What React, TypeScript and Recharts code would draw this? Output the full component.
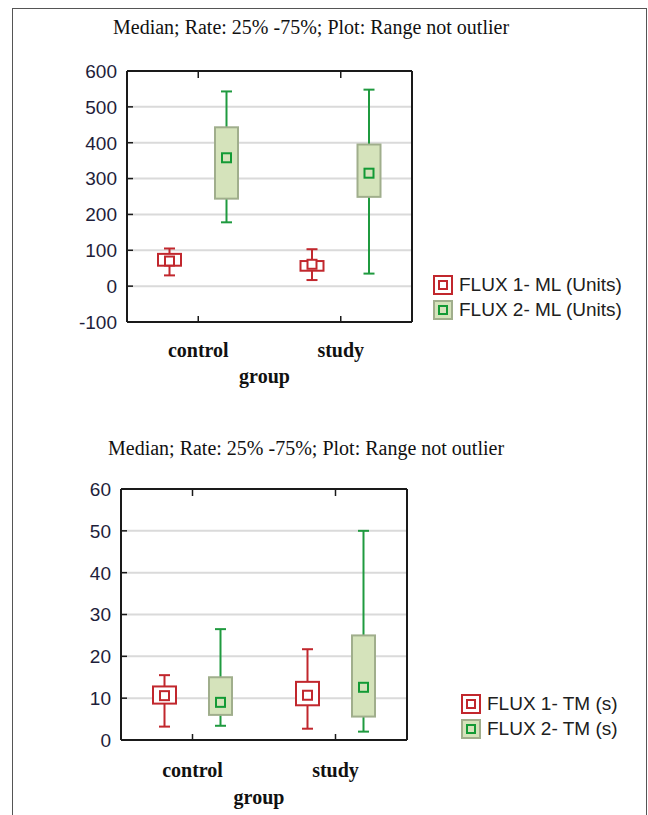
import { ComposedChart, Bar, XAxis, YAxis, CartesianGrid } from "recharts";

// five-number summaries per group: [min, q1, median, q3, max]
const groups = ["control", "study"];
const mlFlux1 = [
  [30, 57, 70, 90, 105],
  [17, 43, 61, 70, 103],
];
const mlFlux2 = [
  [178, 244, 358, 443, 543],
  [35, 249, 315, 395, 548],
];
const tmFlux1 = [
  [3.2, 8.7, 10.6, 12.8, 15.5],
  [2.7, 8.3, 10.7, 13.9, 21.7],
];
const tmFlux2 = [
  [3.4, 6, 9, 15, 26.5],
  [2, 5.6, 12.6, 25, 50],
];
const mlTicks = [-100, 0, 100, 200, 300, 400, 500, 600];
const tmTicks = [0, 10, 20, 30, 40, 50, 60];
const titleText = "Median; Rate: 25% -75%; Plot: Range not outlier";

const SANS = '"Liberation Sans", Arial, sans-serif';
const SERIF = '"Liberation Serif", "Times New Roman", serif';
const AXIS = "#1a1a1a";

const styles = {
  f1: { whisker: "#c1272d", boxFill: "#ffffff", boxStroke: "#c1272d", mark: "#c1272d", markFill: "#ffffff" },
  f2: { whisker: "#1f9a3f", boxFill: "#d5e3bb", boxStroke: "#a0ae8c", mark: "#139a35", markFill: "#d5e3bb" },
};

function BoxShape(props: any) {
  const { x, y, width, height, stats, kind } = props;
  if (!stats) return null;
  const c = styles[kind as "f1" | "f2"];
  const top = Math.min(y, y + height);
  const bottom = Math.max(y, y + height);
  const [mn, q1, md, q3, mx] = stats;
  // position inside the min..max range the scale already gave us
  const py = (v: number) => bottom - ((v - mn) / (mx - mn)) * (bottom - top);
  const cx = x + width / 2;
  const cap = 5.5;
  return (
    <g>
      <line x1={cx} x2={cx} y1={py(mx)} y2={py(mn)} stroke={c.whisker} strokeWidth={2} />
      <line x1={cx - cap} x2={cx + cap} y1={py(mx)} y2={py(mx)} stroke={c.whisker} strokeWidth={2} />
      <line x1={cx - cap} x2={cx + cap} y1={py(mn)} y2={py(mn)} stroke={c.whisker} strokeWidth={2} />
      <rect x={x} y={py(q3)} width={width} height={py(q1) - py(q3)} fill={c.boxFill} stroke={c.boxStroke} strokeWidth={2} />
      <rect x={cx - 4.5} y={py(md) - 4.5} width={9} height={9} fill={c.markFill} stroke={c.mark} strokeWidth={2} />
    </g>
  );
}

function LeftTick({ x, y, payload }: any) {
  return (
    <g>
      <line x1={x + 10} x2={x + 16} y1={y} y2={y} stroke={AXIS} strokeWidth={1.5} />
      <text x={x} y={y} dy="0.36em" textAnchor="end" fontFamily={SANS} fontSize={19} fill="#1e1e3a">
        {payload.value}
      </text>
    </g>
  );
}

function RightTick({ x, y }: any) {
  return <line x1={x - 6} x2={x + 3} y1={y} y2={y} stroke={AXIS} strokeWidth={1.5} />;
}

function TopTick({ x, y }: any) {
  return <line x1={x} x2={x} y1={y} y2={y + 7} stroke={AXIS} strokeWidth={1.5} />;
}

function makeBottomTick(baseline: number) {
  return function BottomTick({ x, y, payload }: any) {
    return (
      <g>
        <line x1={x} x2={x} y1={y - 6} y2={y} stroke={AXIS} strokeWidth={1.5} />
        <text x={x} y={y + baseline} textAnchor="middle" fontFamily={SERIF} fontWeight="bold" fontSize={20} fill="#111">
          {payload.value}
        </text>
      </g>
    );
  };
}

function makeGroupLabel(baseline: number) {
  return function GroupLabel(props: any) {
    const vb = props.viewBox;
    if (!vb) return null;
    return (
      <text x={vb.x + vb.width / 2 - 5} y={vb.y + baseline} textAnchor="middle" fontFamily={SERIF} fontWeight="bold" fontSize={20} fill="#111">
        group
      </text>
    );
  };
}

function BoxChart({ a, b, ticks, margin, height, gap, tickBase, labelBase }: any) {
  const rows = groups.map((g, i) => ({ group: g, a: a[i], b: b[i] }));
  const domain = [ticks[0], ticks[ticks.length - 1]];
  return (
    <ComposedChart width={648} height={height} data={rows} margin={margin} barSize={23} barGap={gap}>
      <CartesianGrid vertical={false} stroke="#dadada" strokeWidth={2} />
      <XAxis
        dataKey="group"
        height={30}
        axisLine={{ stroke: AXIS, strokeWidth: 2 }}
        tickLine={false}
        tickSize={0}
        tickMargin={0}
        tick={makeBottomTick(tickBase)}
        label={{ value: "group", content: makeGroupLabel(labelBase) }}
      />
      <XAxis
        xAxisId="top"
        dataKey="group"
        orientation="top"
        height={1}
        axisLine={{ stroke: AXIS, strokeWidth: 2 }}
        tickLine={false}
        tickSize={0}
        tickMargin={0}
        tick={<TopTick />}
      />
      <YAxis
        type="number"
        domain={domain}
        ticks={ticks}
        width={60}
        axisLine={{ stroke: AXIS, strokeWidth: 2 }}
        tickLine={false}
        tickSize={0}
        tickMargin={10}
        tick={<LeftTick />}
        interval={0}
      />
      <YAxis
        yAxisId="right"
        orientation="right"
        type="number"
        domain={domain}
        ticks={ticks}
        width={1}
        axisLine={{ stroke: AXIS, strokeWidth: 2 }}
        tickLine={false}
        tickSize={0}
        tickMargin={0}
        tick={<RightTick />}
        interval={0}
      />
      <Bar
        dataKey={(d: any) => [d.a[0], d.a[4]]}
        name="FLUX 1"
        isAnimationActive={false}
        shape={(p: any) => <BoxShape {...p} stats={p.payload?.a} kind="f1" />}
      />
      <Bar
        dataKey={(d: any) => [d.b[0], d.b[4]]}
        name="FLUX 2"
        isAnimationActive={false}
        shape={(p: any) => <BoxShape {...p} stats={p.payload?.b} kind="f2" />}
      />
      <Bar xAxisId="top" yAxisId="right" dataKey={() => null} isAnimationActive={false} legendType="none" />
    </ComposedChart>
  );
}

function LegendIcon({ kind }: { kind: "f1" | "f2" }) {
  const c = styles[kind];
  return (
    <svg width={20} height={20} style={{ display: "block" }}>
      <rect x={1} y={1} width={18} height={18} fill={c.boxFill} stroke={c.boxStroke} strokeWidth={2} />
      <rect x={6} y={6} width={8} height={8} fill={c.markFill} stroke={c.mark} strokeWidth={2} />
    </svg>
  );
}

function LegendBlock({ left, top, labels }: any) {
  return (
    <div style={{ position: "absolute", left, top, fontFamily: SANS, fontSize: 19, color: "#202020" }}>
      {labels.map((t: string, i: number) => (
        <div key={t} style={{ display: "flex", alignItems: "center", height: 25.5 }}>
          <LegendIcon kind={i === 0 ? "f1" : "f2"} />
          <span style={{ marginLeft: 6, whiteSpace: "nowrap" }}>{t}</span>
        </div>
      ))}
    </div>
  );
}

function Title({ left, top }: any) {
  return (
    <div style={{ position: "absolute", left, top, fontFamily: SERIF, fontSize: 20, lineHeight: "20px", color: "#111", whiteSpace: "nowrap" }}>
      {titleText}
    </div>
  );
}

export default function App() {
  return (
    <div style={{ position: "absolute", left: 0, top: 0, width: 648, height: 815, overflow: "hidden", background: "#fff" }}>
      <div style={{ position: "absolute", left: 12, top: 8, width: 633, height: 830, border: "1.5px solid #555" }} />
      <Title left={113} top={17} />
      <div style={{ position: "absolute", left: 0, top: 0 }}>
        <BoxChart
          a={mlFlux1}
          b={mlFlux2}
          ticks={mlTicks}
          height={400}
          margin={{ top: 70, right: 235, bottom: 48, left: 67 }}
          gap={34}
          tickBase={35}
          labelBase={61}
        />
      </div>
      <LegendBlock left={433} top={272} labels={["FLUX 1- ML (Units)", "FLUX 2- ML (Units)"]} />
      <Title left={108} top={438} />
      <div style={{ position: "absolute", left: 0, top: 400 }}>
        <BoxChart
          a={tmFlux1}
          b={tmFlux2}
          ticks={tmTicks}
          height={415}
          margin={{ top: 88, right: 240, bottom: 45, left: 61 }}
          gap={33}
          tickBase={37}
          labelBase={64}
        />
      </div>
      <LegendBlock left={461} top={691} labels={["FLUX 1- TM (s)", "FLUX 2- TM (s)"]} />
    </div>
  );
}
